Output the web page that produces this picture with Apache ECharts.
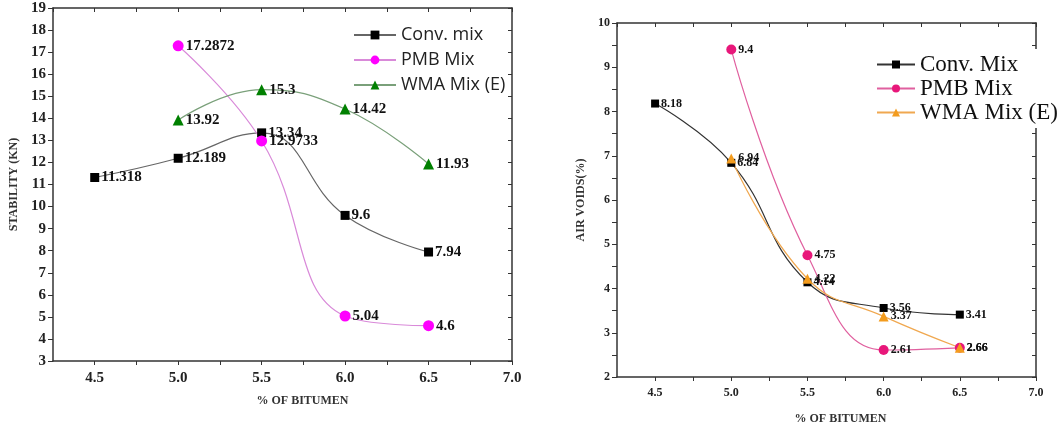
<!DOCTYPE html>
<html>
<head>
<meta charset="utf-8">
<script src="https://cdn.jsdelivr.net/npm/echarts@6/dist/echarts.min.js"></script>
<style>
  body { margin: 0; background: #fff; }
  #wrap { width: 1060px; height: 430px; position: relative; }
  .box { position: absolute; top: 0; width: 530px; height: 430px; }
</style>
</head>
<body>
<div id="wrap">
  <div id="stab" class="box" style="left:0"></div>
  <div id="voids" class="box" style="left:530px"></div>
</div>
<script>
// 数据
var bitumen = [4.5, 5.0, 5.5, 6.0, 6.5];

// 稳定度 (KN)
var stabConv = [11.318, 12.189, 13.34, 9.6, 7.94];
var stabPmb = [null, 17.2872, 12.9733, 5.04, 4.6];
var stabWma = [null, 13.92, 15.3, 14.42, 11.93];

// 空隙率 (%)
var voidConv = [8.18, 6.84, 4.14, 3.56, 3.41];
var voidPmb = [null, 9.4, 4.75, 2.61, 2.66];
var voidWma = [null, 6.94, 4.22, 3.37, 2.66];

var xTicks = [4.5, 5.0, 5.5, 6.0, 6.5, 7.0];

var serif = 'Liberation Serif';

function pairs(ys) {
  var out = [];
  for (var i = 0; i < bitumen.length; i++) {
    if (ys[i] != null) out.push([bitumen[i], ys[i]]);
  }
  return out;
}

function xLabel(v) {
  for (var i = 0; i < xTicks.length; i++) {
    if (Math.abs(v - xTicks[i]) < 1e-6) return xTicks[i].toFixed(1);
  }
  return '';
}

function frameAxes(labelSize, nameShift, yTitle, yMin, yMax, yStep, yFmt) {
  var axisLine = { lineStyle: { color: '#333', width: 1.5 } };
  return {
    xAxis: [{
      type: 'value', min: 4.25, max: 7.0, interval: 0.25,
      name: '% OF BITUMEN', nameLocation: 'middle', nameGap: 34,
      nameTextStyle: { fontFamily: serif, fontWeight: 'bold', fontSize: 12, color: '#333', padding: [0, 0, 0, nameShift] },
      axisLine: axisLine,
      axisTick: { inside: false, length: 4, lineStyle: { color: '#333' } },
      axisLabel: { formatter: xLabel, fontFamily: serif, fontWeight: 'bold', fontSize: labelSize, color: '#222', margin: 10, showMinLabel: false },
      splitLine: { show: false }
    }, {
      type: 'value', min: 4.25, max: 7.0, interval: 0.25, position: 'top',
      axisLine: axisLine,
      axisTick: { inside: true, length: 4, lineStyle: { color: '#333' } },
      axisLabel: { show: false },
      splitLine: { show: false }
    }],
    yAxis: [{
      type: 'value', min: yMin, max: yMax, interval: yStep,
      name: yTitle, nameLocation: 'middle', nameGap: yTitle.charAt(0) == 'S' ? 32 : 26,
      nameTextStyle: { fontFamily: serif, fontWeight: 'bold', fontSize: 12, color: '#333' },
      axisLine: Object.assign({ show: true }, axisLine),
      axisTick: { show: true, inside: false, length: 5, lineStyle: { color: '#333' } },
      axisLabel: { formatter: yFmt, fontFamily: serif, fontWeight: 'bold', fontSize: labelSize, color: '#222', margin: 7 },
      splitLine: { show: false }
    }, {
      type: 'value', min: yMin, max: yMax, interval: yStep, position: 'right',
      axisLine: Object.assign({ show: true }, axisLine),
      axisTick: { show: true, inside: true, length: 4, lineStyle: { color: '#333' } },
      axisLabel: { show: false },
      splitLine: { show: false }
    }]
  };
}

function mkSeries(name, data, symbol, size, markColor, lineColor, labelSize) {
  return {
    name: name, type: 'line', data: pairs(data), smooth: 0.45,
    symbol: symbol, symbolSize: size,
    itemStyle: { color: markColor },
    lineStyle: { color: lineColor, width: 1.2 },
    label: {
      show: true, position: 'right', distance: 2,
      fontFamily: serif, fontWeight: 'bold', fontSize: labelSize, color: '#111'
    },
    z: 3
  };
}

// 稳定度图
var chart1 = echarts.init(document.getElementById('stab'));
var opt1 = frameAxes(15, 40, 'STABILITY (KN)', 3, 19, 1, null);
opt1.grid = { left: 53, right: 18, top: 8, bottom: 69 };
opt1.legend = {
  orient: 'vertical', left: 348, top: 21, itemGap: 7,
  itemWidth: 42, itemHeight: 11,
  textStyle: { fontFamily: 'Open Sans', fontSize: 18, color: '#222' },
  data: ['Conv. mix', 'PMB Mix', 'WMA Mix (E)']
};
opt1.series = [
  mkSeries('Conv. mix', stabConv, 'rect', 9, '#000', '#666', 15),
  mkSeries('PMB Mix', stabPmb, 'circle', 11, '#ff00ff', '#d98ad9', 15),
  mkSeries('WMA Mix (E)', stabWma, 'triangle', 11, '#008000', '#7aa07a', 15)
];
chart1.setOption(opt1);

// 空隙率图
var chart2 = echarts.init(document.getElementById('voids'));
var opt2 = frameAxes(12, 28, 'AIR VOIDS(%)', 2, 10, 0.5, function (v) {
  return v % 1 === 0 ? String(v) : '';
});
opt2.xAxis[0].nameGap = 36;
opt2.grid = { left: 87, right: 24, top: 23, bottom: 52 };
opt2.legend = {
  orient: 'vertical', left: 342, top: 49, itemGap: 1,
  itemWidth: 38, itemHeight: 10, backgroundColor: '#fff', padding: [4, 4, 4, 4],
  textStyle: { fontFamily: serif, fontSize: 23, color: '#111' },
  data: ['Conv. Mix', 'PMB Mix', 'WMA Mix (E)']
};
opt2.series = [
  mkSeries('Conv. Mix', voidConv, 'rect', 8, '#000', '#333', 12),
  mkSeries('PMB Mix', voidPmb, 'circle', 10, '#e8177a', '#e0609f', 12),
  mkSeries('WMA Mix (E)', voidWma, 'triangle', 10, '#f39c1e', '#f0a850', 12)
];
chart2.setOption(opt2);
</script>
</body>
</html>
